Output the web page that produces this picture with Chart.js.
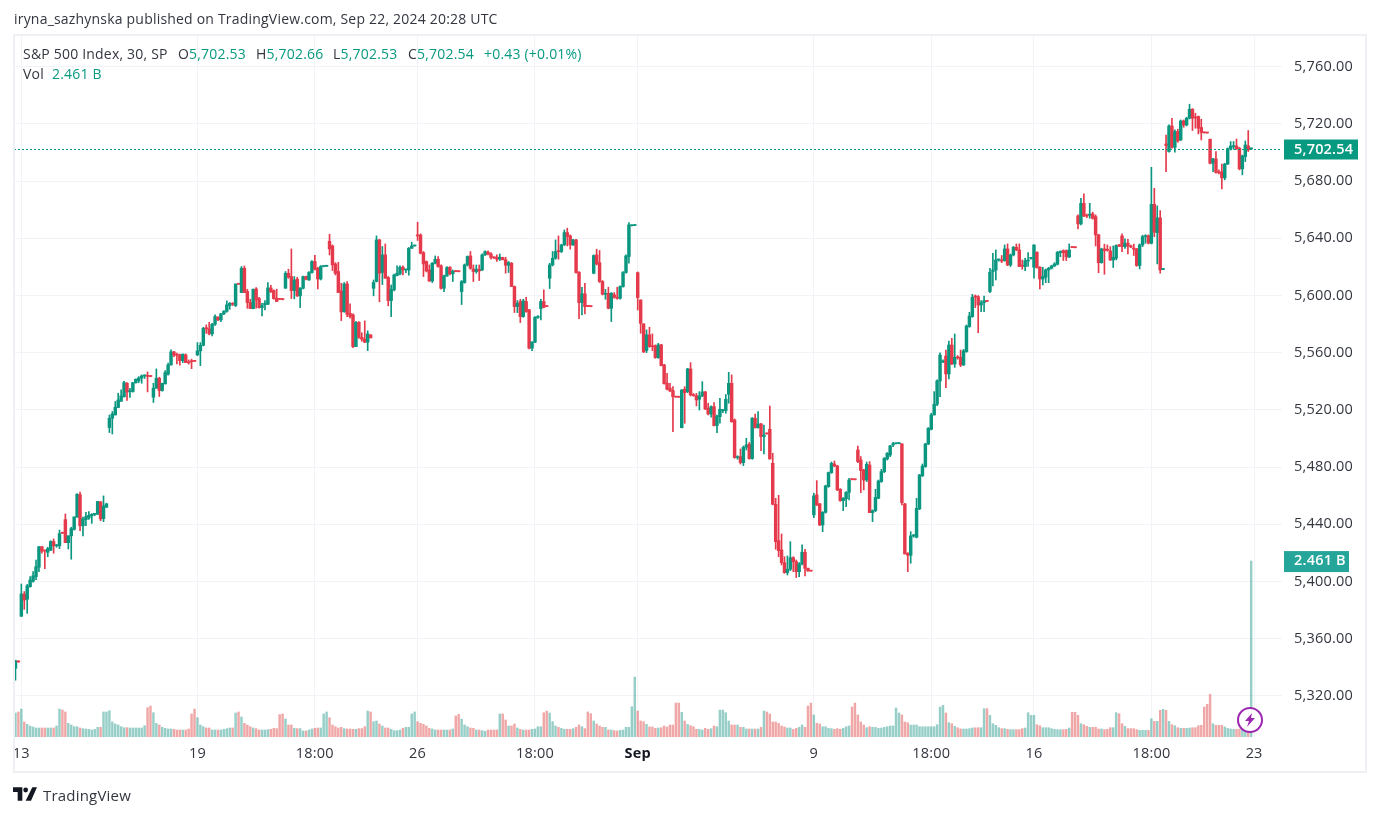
<!DOCTYPE html>
<html>
<head>
<meta charset="utf-8">
<title>S&amp;P 500 Index, 30</title>
<script src="https://cdn.jsdelivr.net/npm/chart.js@4"></script>
<style>
    html, body { margin: 0; padding: 0; background: #fff; }
    #page { position: relative; width: 1378px; height: 816px; overflow: hidden; font-family: "Open Sans", sans-serif; font-size: 14px; letter-spacing: 0.2px; color: #33363f; }
    #page canvas { position: absolute; left: 0; top: 0; }
    #frame { position: absolute; left: 13px; top: 34px; width: 1350px; height: 735px; border: 2px solid #eff0f3; }
    .txt { position: absolute; white-space: nowrap; line-height: 18px; }
    .val { color: #089981; }
</style>
</head>
<body>
<div id="page">
    <canvas id="chart" width="1378" height="816"></canvas>
    <div id="frame"></div>
    <div class="txt" style="left:14px;top:10px">iryna_sazhynska published on TradingView.com, Sep 22, 2024 20:28 UTC</div>
    <div class="txt" style="left:23px;top:45px">S&amp;P 500 Index, 30, SP</div>
    <div class="txt" style="left:178px;top:45px">O<span class="val">5,702.53</span></div>
    <div class="txt" style="left:256px;top:45px">H<span class="val">5,702.66</span></div>
    <div class="txt" style="left:333px;top:45px">L<span class="val">5,702.53</span></div>
    <div class="txt" style="left:408px;top:45px">C<span class="val">5,702.54</span></div>
    <div class="txt val" style="left:484px;top:45px">+0.43 (+0.01%)</div>
    <div class="txt" style="left:23px;top:65px">Vol</div>
    <div class="txt val" style="left:52px;top:65px">2.461 B</div>
    <svg style="position:absolute;left:1236px;top:706px" width="28" height="28" viewBox="0 0 28 28">
        <circle cx="14" cy="14" r="12" fill="#fff" stroke="#9c27b0" stroke-width="2"/>
        <path d="M16 7 L9 15 H13 L11 21 L19 12 H15 Z" fill="#9c27b0"/>
    </svg>
    <svg style="position:absolute;left:13px;top:787px" width="24" height="14" viewBox="0 0 36 20">
        <path d="M0 0 H14 V20 H7 V7 H0 Z M29 0 H36 L27 20 H19 Z" fill="#131722"/>
        <circle cx="19" cy="4" r="3.6" fill="#131722"/>
    </svg>
    <div class="txt" style="left:43px;top:786px;font-size:15px">TradingView</div>
</div>

<script>
// Each row is one 30 minute bar: open, high, low, close
const aug12 = [[5339.3,5345,5331,5344.7],[5344,5344.5,5343.5,5343.8]];
const aug13 = [[5375.7,5398.3,5375.7,5391.3],[5391.3,5393,5380.6,5387.1],[5387.6,5398,5377.8,5397],[5396.4,5403.4,5396,5401],[5400.2,5407,5399.5,5404],[5403.4,5415,5401.3,5410.4],[5410,5424.4,5407,5424.4],[5424.4,5424.4,5419.8,5421.2],[5421.6,5422,5409,5421.4],[5420.5,5424,5417.4,5423],[5422,5428.6,5421.6,5428],[5428,5429.8,5419.8,5425],[5425,5426,5424,5425.5],[5425,5436,5423,5433.5],[5434,5434.2,5433.6,5433.8]];
const aug14 = [[5443.3,5447.3,5427.2,5427.2],[5427.2,5432,5422.8,5432],[5432,5438,5415.6,5437],[5436.5,5445.2,5436,5445.2],[5445,5461.5,5445,5461],[5460.8,5462.6,5435.6,5439],[5439,5445,5432,5443.8],[5443.3,5448.4,5439,5445.4],[5444.5,5449,5443.5,5446.3],[5446,5447.5,5440.7,5447],[5447,5447.5,5446,5447.2],[5447,5456,5447,5456],[5455.7,5456,5442.6,5443.8],[5444,5459.9,5441.9,5452.9],[5452,5454.8,5451.8,5454.3]];
const aug15 = [[5507.7,5516.5,5504.2,5514.2],[5514.2,5518.9,5503.2,5517.2],[5516.5,5525.9,5516.5,5521.9],[5521.7,5531.7,5521.7,5527],[5526.1,5534,5525.9,5529.8],[5529.3,5540,5528.9,5539.1],[5538.7,5539.2,5526.6,5532.6],[5532.7,5535.2,5528.7,5532.9],[5532.9,5539.4,5532.4,5539.1],[5539.1,5541.7,5538.7,5541.5],[5540.5,5543.3,5539.1,5542.4],[5542.4,5544.5,5538.7,5543.8],[5543.8,5544.5,5542,5544],[5544,5546.6,5532.6,5543.5],[5543.5,5543.7,5543.2,5543.4]];
const aug16 = [[5528.9,5538.7,5525.2,5535.2],[5535.2,5548.7,5535.2,5542.2],[5542.2,5542.9,5529.4,5533.6],[5533.6,5538.7,5533.1,5538.7],[5538.2,5547.5,5538.2,5546.1],[5545,5552.7,5544.3,5551.5],[5551.5,5562,5551.3,5560.6],[5560.6,5561,5557.3,5558.3],[5559,5559.7,5552.2,5558.3],[5558.5,5559,5551.3,5554.5],[5554.5,5559.2,5553.1,5559],[5558.5,5559.2,5553.1,5553.1],[5553.1,5555,5552,5553],[5554,5555.5,5548.9,5553.7],[5554.1,5554.2,5553.9,5554]];
const aug19 = [[5558.5,5567.1,5558,5561.3],[5561.3,5567.1,5551,5565.2],[5565.2,5577.8,5564.8,5577.1],[5577.1,5579.5,5573.6,5576.8],[5576.7,5581.3,5572.5,5573.2],[5573.2,5580.6,5571.8,5579.9],[5579.9,5586.5,5579.2,5585.3],[5584.8,5585.3,5582.5,5583],[5583,5587.6,5581.8,5587.2],[5587.2,5589.5,5586.7,5589],[5589,5596.3,5588.3,5593.5],[5593,5595.1,5590.4,5594.6],[5594.6,5595,5593,5594],[5593,5608.1,5592.3,5608.1],[5608.1,5608.2,5607.8,5607.9]];
const aug20 = [[5602.1,5620.3,5602.1,5619.1],[5619.1,5620.7,5602.1,5602.1],[5602.8,5604.4,5591.1,5595.1],[5595.1,5597.4,5590.9,5590.9],[5590.9,5604.6,5590.7,5604.4],[5604.6,5605.6,5591.1,5597],[5597.9,5598.8,5591.1,5591.6],[5591.6,5594.6,5585.8,5593],[5593.5,5596.5,5590,5594.6],[5593.9,5609,5593.7,5605.3],[5605.3,5607.2,5602.1,5602.8],[5603.5,5604,5597.4,5597.9],[5598.1,5604.4,5595.8,5595.8],[5597.5,5597.7,5597.1,5597.3],[5597.3,5597.5,5597,5597.2]];
const aug21 = [[5605.1,5616.8,5605.1,5615.6],[5615.6,5618.4,5612.1,5612.8],[5613.3,5632.6,5597.9,5603.5],[5603.5,5613.3,5597.7,5610.9],[5611.4,5612.8,5599.3,5599.8],[5599.8,5605.6,5591.6,5605.1],[5605.1,5613.7,5604.6,5613.3],[5613.3,5613.7,5610.9,5611.4],[5610.9,5616.8,5610.5,5616.1],[5616.1,5624.5,5615.6,5623.8],[5623.8,5628.2,5617.9,5618.4],[5619.1,5619.8,5604.6,5611.6],[5611.6,5621,5610.9,5620.3],[5620.3,5620.7,5620.1,5620.5],[5620.5,5620.8,5620.3,5620.6]];
const aug22 = [[5638,5642.9,5628.4,5632.6],[5634.7,5635.4,5617.5,5621.4],[5622.1,5623,5614.4,5615.6],[5616.8,5623.3,5602.1,5602.1],[5603.2,5608.6,5582.5,5588.6],[5588.8,5609.1,5588.3,5608.1],[5608.1,5609.8,5585.3,5586.9],[5587.6,5594.2,5584.1,5585.3],[5586.5,5587.2,5563.6,5564.3],[5564.3,5581.8,5564.3,5581.3],[5581.3,5581.8,5570.1,5570.8],[5570.8,5574,5568,5569.5],[5569.5,5582.3,5567,5567.4],[5567.4,5575.3,5561.5,5573.2],[5572.5,5572.6,5570.3,5570.4]];
const aug23 = [[5605.1,5610.9,5599.8,5609.1],[5609.8,5641.7,5609.5,5638.9],[5638.9,5639.4,5595.6,5615.6],[5616.1,5634.3,5607.7,5628.4],[5628.4,5636.1,5612.1,5612.1],[5612.6,5613.3,5592.8,5596.5],[5596.5,5607.4,5585.3,5604.4],[5604,5615.1,5603.3,5614.4],[5614,5620.7,5613.7,5615.6],[5615.2,5620.7,5614.4,5619.8],[5619.8,5620.7,5614.4,5617.9],[5617.9,5618.5,5616,5618],[5617.9,5633.6,5614.2,5633.1],[5633.1,5637.3,5632.9,5634.7],[5634.7,5635,5634.5,5634.9]];
const aug26 = [[5642.4,5651.3,5638.5,5641.7],[5642.4,5643.1,5629.1,5629.6],[5630,5630.8,5613.3,5622.1],[5623.8,5624.2,5616.5,5617.2],[5617.9,5621.4,5609.8,5610.2],[5610.2,5623.1,5609.1,5622.6],[5622.6,5627.7,5622.1,5625.4],[5625.4,5627.3,5619.8,5620.3],[5620.8,5621.4,5604.4,5605.1],[5605.1,5614.4,5602.8,5613.7],[5613.7,5620.3,5613.3,5619.6],[5619.8,5620.3,5614.4,5615.2],[5615.2,5617.9,5609.8,5617],[5617,5617.2,5616.6,5616.8],[5616.8,5617,5616.5,5616.7]];
const aug27 = [[5602.8,5610.5,5593.7,5609.8],[5609.1,5622.1,5608.6,5621.4],[5621.4,5627.7,5620.7,5627.3],[5627.7,5630.8,5618.4,5619.1],[5618.6,5621.4,5609.8,5616.8],[5616.8,5621.4,5615.6,5618.4],[5618.4,5621.4,5610.5,5617.2],[5617.9,5629.1,5617.4,5628.4],[5628.4,5631.2,5628,5630.8],[5630.3,5631.2,5628.4,5628.9],[5629.1,5630.1,5625.4,5626.6],[5626.6,5627,5625.8,5626.4],[5626.8,5628.4,5623.8,5625.4],[5625.4,5629.1,5624.5,5626.8],[5626.6,5626.8,5625,5625]];
const aug28 = [[5625,5626.8,5615.6,5621.2],[5621.2,5623.8,5616.1,5623.1],[5622.6,5623.1,5606.3,5606.3],[5606.3,5606.7,5588.1,5592.3],[5592.3,5596.5,5588.1,5594.6],[5595.8,5597.4,5581.1,5585.3],[5585.3,5597.4,5584.8,5596.3],[5595.8,5598.8,5588.3,5588.8],[5590,5590.4,5562.7,5563.2],[5563.2,5567.8,5561.5,5567.4],[5567.4,5585.3,5567.1,5584.8],[5584.8,5586,5584,5585.5],[5590.9,5597.4,5583,5595.8],[5595.8,5604,5591.4,5591.8],[5592.5,5592.6,5592.2,5592.3]];
const aug29 = [[5612.1,5622.6,5604.9,5621.4],[5621.4,5630.8,5620.7,5626.1],[5626.1,5638.9,5625.4,5630.8],[5631,5641.7,5625.4,5630.7],[5630.8,5635.9,5630.1,5635.4],[5635.4,5645.9,5635,5644],[5644,5647.1,5634.7,5641.3],[5641.7,5642.4,5632.4,5635.4],[5635.4,5639.4,5635,5638.9],[5638.9,5639.4,5615.6,5616.1],[5616.3,5616.8,5583.9,5595.1],[5595.1,5605.8,5586.5,5601.2],[5601.2,5608.6,5587.2,5592.3],[5592.6,5592.7,5592.2,5592.4],[5592.4,5592.6,5592.1,5592.3]];
const aug30 = [[5615.6,5628.4,5615.2,5628],[5628.4,5632.4,5621.4,5622.1],[5623,5631.5,5609.1,5609.8],[5609.8,5610.5,5600.4,5600.9],[5600.9,5604.4,5597.4,5601.6],[5601.6,5605.8,5590.7,5591.1],[5591.1,5602.1,5581.8,5601.6],[5600.5,5602.1,5598.1,5598.8],[5598.8,5605.8,5597.4,5598.1],[5598.1,5606.8,5597.4,5606.3],[5606.3,5616.8,5605.8,5616.1],[5616.1,5628.4,5615.6,5627.7],[5627.3,5651,5622.6,5649.4],[5648.8,5649.4,5648.7,5649],[5649,5649.3,5648.9,5649.1]];
const sep03 = [[5616,5616.5,5589.9,5598.6],[5596.9,5597,5573.6,5580.6],[5580.2,5580.3,5560.1,5560.6],[5561.5,5576,5560.1,5572.5],[5572.5,5577.8,5563.8,5564.3],[5564.8,5573.2,5561.5,5564.3],[5565,5565.5,5556.1,5556.6],[5556.6,5566.6,5556.1,5565.5],[5565.5,5565.9,5550.8,5551],[5551.5,5551.9,5538,5538.4],[5538.7,5545.6,5534,5534.5],[5535.2,5538.7,5532.8,5533.3],[5533.5,5536.3,5504.9,5529.3],[5529.3,5529.5,5528.8,5529],[5529,5529.2,5528.8,5528.9]];
const sep04 = [[5507.6,5534.2,5507.4,5534],[5534.5,5536.3,5510.7,5532.1],[5532.8,5549.1,5532.1,5548.7],[5548.7,5553.1,5529.8,5530.5],[5530.5,5531.5,5529.5,5530],[5530,5531.6,5522.8,5527],[5527.5,5532.8,5520,5529.8],[5529.8,5539.8,5529.3,5532.6],[5532.6,5533,5520.2,5520.7],[5521.2,5524.7,5516.5,5517.2],[5517.2,5522.8,5514.9,5522.3],[5522.3,5525.1,5508.8,5509.1],[5509.1,5516.5,5504.2,5515.8],[5515.3,5528.2,5510.7,5520.5],[5519.5,5520.5,5518.1,5520.2]];
const sep05 = [[5519.5,5530.8,5517.7,5527.5],[5531,5546.3,5524.7,5538.6],[5538.6,5544.5,5511.4,5511.8],[5513,5513.7,5486.2,5486.7],[5486.7,5488,5485.5,5487],[5487.4,5492.7,5482.2,5483.2],[5483.2,5494.8,5481.1,5493.9],[5493.9,5500.2,5492,5495.5],[5496,5497.2,5485.5,5486],[5486,5514.7,5485.5,5514.2],[5514.2,5517.2,5507.2,5507.6],[5507.6,5518.8,5507.2,5510.2],[5510.2,5510.7,5491.6,5501.4],[5501.4,5509.5,5489.2,5502.5],[5503.5,5503.7,5503.1,5503.3]];
const sep06 = [[5506.5,5522.8,5485.7,5485.7],[5482.7,5489.7,5453.6,5454],[5454,5458.2,5422.6,5427.9],[5428.6,5460.3,5417.4,5421.6],[5422.1,5433.3,5411.6,5413.2],[5413.2,5417.4,5405.8,5406.2],[5406.2,5417.9,5404.6,5408.6],[5408.6,5427.9,5407.7,5416.7],[5416.7,5417.4,5406.9,5413.9],[5413.9,5415.1,5402.8,5406.9],[5406.9,5413.2,5403.5,5412.3],[5412.3,5425.6,5411.6,5420.5],[5420.5,5422.6,5403.9,5409.3],[5409.3,5409.5,5407.2,5407.4],[5407.4,5407.5,5407.2,5407.3]];
const sep09 = [[5446.6,5461.7,5444.7,5459.9],[5460.6,5470.6,5453.1,5453.6],[5454.3,5454.7,5439.1,5439.6],[5439.6,5448.9,5434.9,5448.4],[5448.4,5467.4,5447.9,5466.9],[5466.4,5476.6,5465.9,5476.2],[5476.2,5483.6,5475.7,5482.7],[5482.2,5484.3,5480.4,5480.8],[5480.8,5481.3,5463.6,5464.1],[5464.5,5465,5456.1,5456.6],[5456.6,5458.7,5449.6,5458.2],[5457.9,5462.9,5452.4,5462.4],[5462.4,5472.2,5457.1,5471],[5471.5,5471.7,5471.1,5471.3],[5471.3,5471.5,5471,5471.2]];
const sep10 = [[5492,5494.8,5483.2,5483.9],[5485,5487.4,5462.2,5477.6],[5478.1,5478.5,5464.1,5471],[5471,5483.6,5469.9,5482],[5481.5,5483.9,5448.2,5448.2],[5448.2,5450.1,5441.9,5449.6],[5449.6,5464.5,5448.9,5458.9],[5458.2,5471,5457.9,5470.3],[5469.9,5478.5,5469.4,5476.9],[5476.9,5486.7,5476.2,5486.2],[5485.7,5490.2,5485,5489.7],[5488.5,5495.3,5487.4,5494.8],[5495.5,5497.4,5494.3,5496.4],[5496.4,5496.7,5496.2,5496.5],[5496.5,5496.8,5496.3,5496.6]];
const sep11 = [[5496.2,5496.4,5453.6,5455.2],[5454.3,5454.7,5419.3,5419.3],[5419.8,5420.2,5406.9,5418.4],[5418.4,5434.9,5412.8,5431.9],[5431.9,5433,5431,5432.5],[5431,5458.2,5430.5,5451.2],[5450.8,5475,5450.3,5474.5],[5474,5482.2,5473.4,5480.8],[5480.4,5496.7,5479.9,5496.2],[5496.2,5507.7,5495.7,5507.2],[5506.5,5517.7,5506,5516.5],[5516.5,5532.8,5516.5,5524],[5524,5541,5523,5540.3],[5540.3,5560,5529.3,5558.4],[5553.6,5555,5553,5554.3]];
const sep12 = [[5557.7,5561.9,5535.6,5545.2],[5545.2,5568.2,5541.7,5565.4],[5565.4,5570.1,5551.7,5552.2],[5552.2,5573.1,5549.8,5556.8],[5556.8,5558,5555.5,5556.5],[5556.8,5561.9,5550.3,5551.5],[5551.5,5562.4,5551,5561.3],[5560.8,5579.4,5560.3,5578.7],[5578.3,5588.3,5577.8,5585.7],[5585.3,5600.9,5584.8,5598.8],[5599.2,5600.4,5591.6,5599],[5599.2,5600,5574,5593.4],[5593.4,5596.4,5588.8,5595],[5595,5599.7,5588.8,5596.4],[5596,5596.1,5595.7,5595.9]];
const sep13 = [[5602.8,5619.1,5602.1,5616.3],[5616.8,5629.6,5606.7,5617.9],[5617.9,5631.9,5610.9,5624.9],[5624.9,5625.5,5624,5625],[5624.4,5628,5623,5624.1],[5624.4,5635.4,5624,5632.6],[5632.6,5636.1,5620.9,5621.4],[5621.4,5629,5620.3,5628.4],[5628.4,5634.3,5627.7,5633.8],[5633.8,5636.1,5631.4,5631.9],[5631.9,5636.1,5620.3,5620.3],[5620.7,5624.9,5618.4,5620.5],[5620.3,5626.1,5617.4,5624.4],[5624.2,5630,5620.3,5624.9],[5626,5626.5,5625.5,5626.2]];
const sep16 = [[5619.8,5635.4,5612.1,5635.4],[5630.3,5630.6,5619.1,5619.6],[5619.8,5620.3,5604.6,5611.6],[5611.6,5619.8,5607.4,5613.3],[5612.8,5618.6,5609,5617.9],[5617.9,5619.8,5609,5619.1],[5619.1,5621.2,5618.6,5620.7],[5620.7,5623,5620.3,5622.1],[5621.9,5630.8,5621.4,5630.3],[5630,5631.2,5627.2,5631],[5631.4,5632,5624.5,5630],[5631.4,5631.9,5624.5,5627],[5627,5636.1,5626.5,5631.9],[5633.8,5634,5633.4,5633.6],[5633.6,5633.7,5633.3,5633.5]];
const sep17 = [[5655.7,5656.4,5646.6,5650.1],[5650.1,5668,5649.4,5664.5],[5664.5,5671.1,5655.2,5655.7],[5655.7,5657,5654.5,5655.5],[5656.2,5664.5,5654,5656.4],[5657.1,5658.3,5653.4,5654],[5655.2,5656.4,5634.7,5642.4],[5642.4,5642.9,5616,5623],[5623,5633.1,5622.6,5632.6],[5632.6,5635.9,5614.9,5631.4],[5631.8,5635.4,5631,5631.7],[5631.2,5634.2,5624.5,5624.9],[5624.9,5634.7,5619.6,5626.8],[5626.1,5635.4,5625,5635],[5635.4,5635.9,5634.2,5634.7]];
const sep18 = [[5641.7,5643.1,5630.7,5634.2],[5634.2,5639.6,5633,5636.6],[5636.6,5639.4,5629.1,5634.7],[5634.7,5635.3,5633.5,5634],[5632.7,5636,5628,5632.5],[5632.6,5633,5620.5,5621],[5621,5636.1,5618.6,5635.4],[5635.4,5642.2,5634.2,5641.2],[5641.2,5642.6,5636.6,5641.9],[5641.9,5642.4,5636.1,5636.6],[5636.6,5689.7,5636.1,5663.8],[5663.8,5675,5641.2,5644.3],[5644,5662.7,5622.1,5654.3],[5654.3,5659.4,5615.6,5617.9],[5618.3,5618.7,5618.1,5618.5]];
const sep19 = [[5706,5712.3,5686.7,5704.9],[5700.7,5719.3,5700.2,5718.6],[5718.6,5724,5703,5703.7],[5703.7,5715.8,5700.2,5714.7],[5714.7,5716.3,5707.2,5708.1],[5708.8,5722.8,5708.4,5722.1],[5722.1,5722.8,5717.7,5719.3],[5719.3,5724.7,5718.6,5724],[5724,5733.8,5723.5,5730.3],[5730.3,5730.7,5715.4,5724],[5724.5,5727.5,5717,5724.2],[5725.2,5725.6,5713,5717],[5717.5,5723.3,5708.8,5714],[5714,5714.2,5713.6,5713.8],[5713.8,5714,5713.5,5713.7]];
const sep20 = [[5709.3,5709.5,5692,5692.5],[5692.5,5696,5686.7,5695.5],[5695.5,5700.7,5685.5,5686],[5686,5688,5685,5685.8],[5686.5,5692,5674.6,5682.3],[5682.3,5692.5,5680.9,5692],[5692,5703.2,5691.6,5702.8],[5702.8,5707.7,5701.8,5704.6],[5704.1,5707.7,5702.3,5704.6],[5704.6,5709.5,5702.3,5702.5],[5703,5703.7,5687.9,5688.6],[5688.6,5698.3,5684.4,5697.6],[5697.2,5708.1,5693.7,5705.3],[5704.6,5715.4,5700.7,5701.8],[5702.53,5702.66,5702.53,5702.54]];

// Volume per bar in billions, one row per session
const volumes = [
    .336,.350,
    .391,.210,.177,.154,.140,.126,.126,.126,.126,.126,.126,.126,.154,.391,.377,
    .350,.191,.168,.144,.144,.126,.117,.112,.107,.098,.107,.135,.135,.350,.350,
    .368,.210,.182,.168,.144,.130,.130,.126,.126,.126,.126,.126,.158,.410,.433,
    .340,.191,.168,.135,.121,.112,.112,.107,.098,.098,.098,.098,.112,.322,.391,
    .270,.168,.144,.126,.126,.098,.098,.098,.098,.107,.117,.126,.126,.336,.350,
    .280,.191,.168,.144,.126,.117,.098,.098,.098,.103,.107,.121,.117,.313,.322,
    .252,.168,.168,.121,.117,.117,.084,.084,.098,.112,.121,.126,.126,.322,.350,
    .270,.168,.144,.126,.135,.117,.112,.112,.107,.107,.117,.117,.144,.363,.350,
    .214,.224,.182,.154,.126,.126,.107,.089,.089,.098,.121,.135,.135,.322,.350,
    .214,.191,.177,.154,.121,.112,.098,.098,.098,.098,.098,.098,.112,.294,.317,
    .252,.168,.144,.126,.121,.098,.098,.089,.079,.098,.098,.098,.098,.322,.322,
    .238,.154,.154,.182,.126,.107,.098,.098,.098,.107,.112,.144,.144,.340,.363,
    .336,.214,.154,.135,.121,.107,.107,.107,.117,.135,.168,.144,.117,.350,.326,
    .224,.182,.154,.135,.135,.098,.098,.089,.084,.093,.098,.135,.135,.424,.839,
    .363,.224,.214,.177,.140,.140,.121,.126,.130,.154,.140,.168,.168,.475,.475,
    .345,.224,.177,.158,.144,.107,.107,.098,.121,.107,.117,.154,.144,.377,.377,
    .340,.224,.168,.168,.168,.135,.135,.112,.112,.112,.112,.112,.135,.363,.350,
    .322,.210,.210,.191,.154,.140,.126,.126,.107,.121,.135,.168,.135,.433,.475,
    .308,.191,.182,.144,.144,.121,.117,.107,.117,.107,.121,.144,.154,.419,.475,
    .308,.210,.168,.130,.144,.135,.135,.121,.126,.135,.144,.154,.154,.405,.336,
    .308,.210,.200,.168,.168,.168,.144,.144,.144,.144,.144,.144,.172,.419,.443,
    .336,.200,.186,.149,.130,.112,.112,.112,.117,.126,.130,.130,.130,.396,.396,
    .303,.186,.163,.130,.117,.117,.107,.103,.103,.103,.103,.117,.126,.340,.303,
    .303,.172,.158,.130,.130,.130,.117,.107,.103,.103,.103,.107,.126,.345,.345,
    .303,.186,.172,.149,.135,.135,.135,.112,.112,.103,.107,.130,.130,.340,.326,
    .186,.149,.117,.117,.117,.103,.093,.093,.093,.093,.256,.219,.219,.373,.387,
    .373,.219,.172,.158,.130,.121,.121,.121,.126,.130,.130,.158,.163,.419,.457,
    .596,.186,.163,.163,.163,.140,.121,.112,.107,.107,.112,.117,.107,.326,2.461
];

// Axis ticks
const priceTicks = [5320, 5360, 5400, 5440, 5480, 5520, 5560, 5600, 5640, 5680, 5720, 5760];
const timeTickIndex = [2, 62, 102, 137, 177, 212, 272, 312, 347, 387, 422];
const timeTickLabels = ['13', '19', '18:00', '26', '18:00', 'Sep', '9', '18:00', '16', '18:00', '23'];

const upColor = '#0b9680';
const downColor = '#e53a4b';
const upVolume = 'rgba(8,140,125,0.42)';
const downVolume = 'rgba(222,60,60,0.45)';
const fontFamily = '"Open Sans", sans-serif';

const bars = [...aug12, ...aug13, ...aug14, ...aug15, ...aug16, ...aug19, ...aug20, ...aug21, ...aug22, ...aug23,
    ...aug26, ...aug27, ...aug28, ...aug29, ...aug30, ...sep03, ...sep04, ...sep05, ...sep06,
    ...sep09, ...sep10, ...sep11, ...sep12, ...sep13, ...sep16, ...sep17, ...sep18, ...sep19, ...sep20];

// Category slots: the bars plus the empty room up to the right price scale
const labels = new Array(432).fill('');
timeTickIndex.forEach((idx, i) => { labels[idx] = timeTickLabels[i]; });

const isUp = bars.map(b => b[3] >= b[0]);
const lastBar = bars[bars.length - 1];
const lastVolume = volumes[volumes.length - 1];

function formatPrice(v) {
    return v.toLocaleString('en-US', { minimumFractionDigits: 2, maximumFractionDigits: 2 });
}

// Dotted last price line and the two tags on the price scale
const lastValueMarks = {
    id: 'lastValueMarks',
    afterDatasetsDraw(chart) {
        const { ctx, chartArea, scales } = chart;
        const priceY = Math.round(scales.y.getPixelForValue(lastBar[3])) + 0.5;
        const volY = scales.v.getPixelForValue(lastVolume);
        ctx.save();
        ctx.strokeStyle = '#089981';
        ctx.lineWidth = 1;
        ctx.setLineDash([2, 2]);
        ctx.beginPath();
        ctx.moveTo(chartArea.left, priceY);
        ctx.lineTo(chartArea.right, priceY);
        ctx.stroke();
        ctx.setLineDash([]);

        ctx.font = '600 14.5px ' + fontFamily;
        ctx.textBaseline = 'middle';
        ctx.textAlign = 'left';
        ctx.fillStyle = '#089981';
        ctx.fillRect(chartArea.right + 2, priceY - 10, 74, 20);
        ctx.fillStyle = '#fff';
        ctx.fillText(formatPrice(lastBar[3]), chartArea.right + 12, priceY);

        ctx.fillStyle = '#26a69a';
        ctx.fillRect(chartArea.right + 2, volY - 10, 65, 21);
        ctx.fillStyle = '#fff';
        ctx.fillText(lastVolume.toFixed(3) + ' B', chartArea.right + 12, volY);
        ctx.restore();
    }
};

new Chart(document.getElementById('chart'), {
    type: 'bar',
    data: {
        labels: labels,
        datasets: [
            {
                // wicks
                data: bars.map(b => [b[2], b[1]]),
                backgroundColor: isUp.map(up => up ? upColor : downColor),
                barThickness: 1,
                minBarLength: 1,
                grouped: false,
                yAxisID: 'y',
                order: 2
            },
            {
                // bodies
                data: bars.map(b => [Math.min(b[0], b[3]), Math.max(b[0], b[3])]),
                backgroundColor: isUp.map(up => up ? upColor : downColor),
                barThickness: 2.8,
                minBarLength: 1,
                grouped: false,
                yAxisID: 'y',
                order: 1
            },
            {
                data: volumes,
                backgroundColor: isUp.map(up => up ? upVolume : downVolume),
                barThickness: 1.8,
                grouped: false,
                yAxisID: 'v',
                order: 3
            }
        ]
    },
    options: {
        responsive: false,
        animation: false,
        devicePixelRatio: 1,
        layout: { padding: { left: 14, top: 35, right: 13, bottom: 45 } },
        plugins: { legend: { display: false }, tooltip: { enabled: false } },
        scales: {
            x: {
                offset: true,
                afterBuildTicks: scale => { scale.ticks = timeTickIndex.map(v => ({ value: v })); },
                afterFit: scale => { scale.height = 34; },
                grid: { offset: false, color: '#f2f3f6', drawTicks: false },
                border: { display: false },
                ticks: {
                    autoSkip: false,
                    maxRotation: 0,
                    padding: 8,
                    color: ctx => timeTickLabels[ctx.index] === 'Sep' ? '#131722' : '#33363f',
                    font: ctx => ({ family: fontFamily, size: 14.5, weight: timeTickLabels[ctx.index] === 'Sep' ? '700' : '400' })
                }
            },
            y: {
                position: 'right',
                min: 5291.3,
                max: 5782.2,
                afterBuildTicks: scale => { scale.ticks = priceTicks.map(v => ({ value: v })); },
                afterFit: scale => { scale.width = 83; },
                grid: { color: '#f2f3f6', drawTicks: false },
                border: { display: false },
                ticks: {
                    padding: 12,
                    color: '#33363f',
                    font: { family: fontFamily, size: 14.5 },
                    callback: v => formatPrice(v)
                }
            },
            v: {
                display: false,
                min: 0,
                max: 9.82
            }
        }
    },
    plugins: [lastValueMarks]
});
</script>
</body>
</html>
